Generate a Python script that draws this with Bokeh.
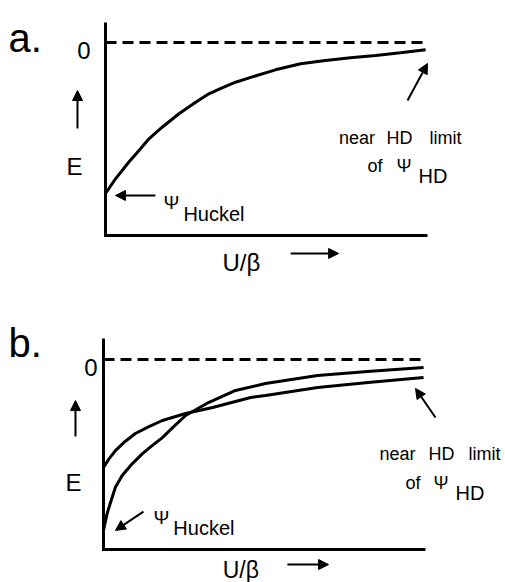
from bokeh.plotting import figure
from bokeh.models import Range1d, Label, Arrow, NormalHead
from bokeh.layouts import column
from bokeh.embed import file_html
from bokeh.resources import INLINE

FONT = "Liberation Sans"

# ---- data (U/beta on x, E on y; E = 0 is the dashed reference) ----
u_a = [0.0, 0.031, 0.072, 0.104, 0.135, 0.176, 0.228, 0.280, 0.321, 0.362,
       0.404, 0.456, 0.528, 0.606, 0.683, 0.761, 0.839, 0.916, 0.994]
E_a = [-1.0, -0.903, -0.793, -0.715, -0.638, -0.561, -0.472, -0.395, -0.340, -0.300,
       -0.263, -0.228, -0.181, -0.141, -0.119, -0.101, -0.086, -0.068, -0.048]

u_b1 = [0.0, 0.017, 0.037, 0.068, 0.099, 0.141, 0.183, 0.255, 0.339, 0.457, 0.503, 0.665, 0.830, 0.994]
E_b1 = [-0.715, -0.658, -0.603, -0.541, -0.490, -0.444, -0.404, -0.358, -0.318, -0.252, -0.238, -0.185, -0.151, -0.119]

u_b2 = [0.0, 0.011, 0.022, 0.037, 0.058, 0.089, 0.121, 0.151, 0.183, 0.218, 0.255, 0.326, 0.410, 0.503, 0.665, 0.830, 0.994]
E_b2 = [-1.132, -1.022, -0.945, -0.846, -0.768, -0.691, -0.623, -0.570, -0.517, -0.445, -0.371, -0.285, -0.205, -0.159, -0.106, -0.078, -0.053]

zero_u = [0.0, 1.0]
zero_E = [0.0, 0.0]

axis_a_u = [0.0, 0.0, 1.0]
axis_a_E = [0.1325, -1.278, -1.278]
axis_b_u = [0.0, 0.0, 1.0]
axis_b_E = [0.139, -1.258, -1.258]

tick_label = "0"


def base(x0, x1, y0, y1):
    p = figure(width=505, height=291, x_range=Range1d(x0, x1), y_range=Range1d(y0, y1),
               output_backend="svg", toolbar_location=None,
               x_axis_location=None, y_axis_location=None, min_border=0)
    p.grid.visible = False
    p.outline_line_color = None
    p.background_fill_color = "white"
    p.border_fill_color = "white"
    p.line(zero_u, zero_E, line_color="black", line_width=3, line_dash="11 6")
    return p


def lab(p, x, y, t, size, align="left"):
    p.add_layout(Label(x=x, y=y, text=t, text_font=FONT, text_font_size=f"{size}px",
                       text_color="black", text_align=align, text_baseline="alphabetic"))


def arr(p, x0, y0, x1, y1, w=2, hs=10):
    p.add_layout(Arrow(end=NormalHead(size=hs, fill_color="black", line_color="black", line_width=1),
                       x_start=x0, y_start=y0, x_end=x1, y_end=y1,
                       line_color="black", line_width=w))


# ---- panel a ----
pa = base(-0.32609, 1.24224, -1.64901, 0.27815)
pa.line(axis_a_u, axis_a_E, line_color="black", line_width=3, line_join="miter")
pa.line(u_a, E_a, line_color="black", line_width=3)
lab(pa, -0.0466, -0.053, tick_label, 24, "right")
lab(pa, -0.301, 0.033, "a.", 40)
arr(pa, -0.087, -0.570, -0.087, -0.318)
lab(pa, -0.096, -0.821, "E", 24, "center")
arr(pa, 0.155, -1.013, 0.031, -1.013)
lab(pa, 0.180, -1.060, "Ψ", 19)
lab(pa, 0.242, -1.139, "Huckel", 20)
lab(pa, (356.5 - 105) / 322, -0.632, "near", 18, "center")
lab(pa, (399 - 105) / 322, -0.632, "HD", 18, "center")
lab(pa, (445 - 105) / 322, -0.632, "limit", 18, "center")
lab(pa, 0.814, -0.815, "of", 18)
lab(pa, 0.904, -0.821, "Ψ", 18)
lab(pa, 0.972, -0.887, "HD", 20)
arr(pa, 0.938, -0.384, 1.0, -0.139)
lab(pa, 0.363, -1.457, "U/β", 24)
arr(pa, 0.575, -1.397, 0.724, -1.397)

# ---- panel b ----
pb = base(-0.31988, 1.24845, -1.47682, 0.45033)
pb.line(axis_b_u, axis_b_E, line_color="black", line_width=3, line_join="miter")
pb.line(u_b1, E_b1, line_color="black", line_width=3)
pb.line(u_b2, E_b2, line_color="black", line_width=3)
lab(pb, -0.0186, -0.053, tick_label, 24, "right")
lab(pb, -0.295, 0.106, "b.", 40)
arr(pb, -0.087, -0.510, -0.087, -0.272)
lab(pb, -0.093, -0.815, "E", 24, "center")
arr(pb, 0.124, -1.007, 0.037, -1.132)
lab(pb, 0.155, -1.046, "Ψ", 19)
lab(pb, 0.217, -1.119, "Huckel", 20)
lab(pb, (397 - 103) / 322, -0.623, "near", 18, "center")
lab(pb, (441 - 103) / 322, -0.623, "HD", 18, "center")
lab(pb, (484 - 103) / 322, -0.623, "limit", 18, "center")
lab(pb, 0.938, -0.815, "of", 18)
lab(pb, 1.025, -0.815, "Ψ", 18)
lab(pb, 1.093, -0.881, "HD", 20)
arr(pb, 1.031, -0.384, 0.969, -0.192)
lab(pb, 0.370, -1.397, "U/β", 23)
arr(pb, 0.571, -1.358, 0.699, -1.358)

layout = column(pa, pb)
open("out.html", "w").write(file_html(layout, INLINE))
